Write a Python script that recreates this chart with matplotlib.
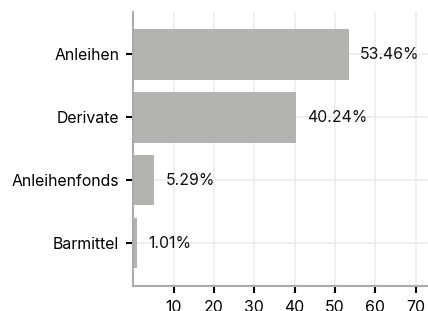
import matplotlib
matplotlib.use('Agg')
import matplotlib.pyplot as plt

categories = ['Anleihen', 'Derivate', 'Anleihenfonds', 'Barmittel']
values = [53.46, 40.24, 5.29, 1.01]
labels = ['53.46%', '40.24%', '5.29%', '1.01%']
xticks = [10, 20, 30, 40, 50, 60, 70]

plt.rcParams['font.family'] = ['Inter', 'DejaVu Sans']

fig = plt.figure(figsize=(4.28, 3.11), dpi=100)
ax = fig.add_axes([0.311, 0.080, 0.689, 0.881])

pos = list(range(len(categories)))
ax.barh(pos, values, height=0.8, color='#b4b3af', zorder=2)
for p, v, t in zip(pos, values, labels):
    ax.annotate(t, (v, p), xytext=(8, 0), textcoords='offset points',
                va='center', ha='left', fontsize=11.4, color='#111111')

ax.set_yticks(pos)
ax.set_yticklabels(categories, fontsize=11.4)
ax.set_ylim(3.68, -0.67)
ax.set_xlim(0, 73)
ax.set_xticks(xticks)
ax.tick_params(axis='x', labelsize=11.4, length=5, width=1.5, color='black', pad=5)
ax.tick_params(axis='y', length=5, width=1.5, color='black', pad=5)
ax.grid(True, color='#ececec', linewidth=1.2, zorder=0)
ax.set_axisbelow(True)
for s in ['top', 'right']:
    ax.spines[s].set_visible(False)
for s in ['left', 'bottom']:
    ax.spines[s].set_color('#ababab')
    ax.spines[s].set_linewidth(1.5)

fig.savefig('out.png', dpi=100)
